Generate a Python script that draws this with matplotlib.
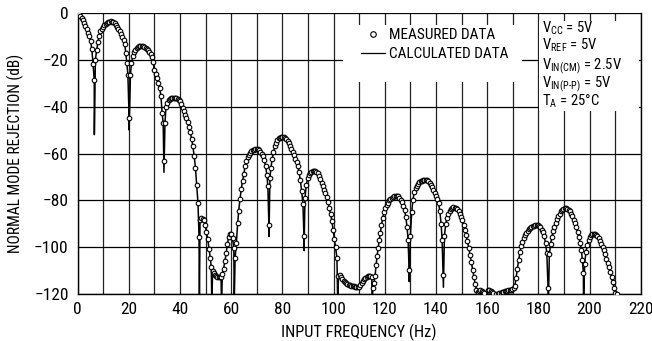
import numpy as np
import matplotlib
matplotlib.use("Agg")
import matplotlib.pyplot as plt
from matplotlib.lines import Line2D
from matplotlib.patches import Rectangle
from matplotlib import font_manager

names = {f.name for f in font_manager.fontManager.ttflist}
prefs = ["Liberation Sans Narrow", "Arial Narrow", "Roboto Condensed", "Archivo Narrow",
         "Asap Condensed", "Liberation Sans", "DejaVu Sans"]
fam = [n for n in prefs if n in names]
main_font = fam[0]
plt.rcParams['font.family'] = [main_font, "DejaVu Sans"]
plt.rcParams['mathtext.fontset'] = 'custom'
plt.rcParams['mathtext.rm'] = main_font
plt.rcParams['mathtext.it'] = main_font

# ---------------- data ----------------
meas_freq = [
    0, 0.5, 1.0, 1.5, 2.0, 2.5, 3.0, 3.5, 4.0, 4.5, 5.0, 5.5, 6.0, 6.45,
    6.9, 7.4, 7.9, 8.4, 8.9, 9.4, 9.9, 10.4, 10.9, 11.4, 11.9, 12.4, 12.9, 13.4, 13.9,
    14.4, 14.9, 15.4, 15.9, 16.4, 16.9, 17.4, 17.9, 18.4, 18.8, 19.2, 19.6, 20.1,
    20.6, 21.0, 21.5, 22.0, 22.5, 23.0, 23.5, 24.0, 24.5, 25.0, 25.5, 26.0, 26.5,
    27.0, 27.5, 28.0, 28.5, 29.0, 29.5, 29.9, 30.5, 31.0, 31.5, 32.0, 32.5, 33.0, 33.4, 33.8,
    34.1, 34.5, 35.0, 35.5, 36.0, 36.5, 37.0, 37.5, 38.0, 38.5, 39.0, 39.5, 40.0,
    40.5, 41.0, 41.5, 42.0, 42.5, 43.0, 43.5, 44.0, 44.5, 45.0, 45.5, 46.0, 46.5, 47.0, 47.4,
    47.8, 48.3, 48.8, 49.3, 49.8, 50.3, 50.8, 51.3, 51.8, 52.2,
    52.7, 53.1, 53.6, 54.1, 54.6, 55.1, 55.6, 56.0,
    56.5, 57.0, 57.5, 58.0, 58.5, 59.0, 59.5, 60.0, 60.5, 61.0,
    61.5, 62.0, 62.5, 62.9, 63.4, 63.9, 64.4, 64.9, 65.4, 65.9, 66.4, 66.9, 67.4, 67.9,
    68.4, 68.9, 69.4, 69.9, 70.4, 70.9, 71.4, 71.9, 72.4, 72.9, 73.4, 73.9, 74.3, 74.7,
    75.1, 75.5, 76.0, 76.5, 77.0, 77.5, 78.0, 78.5, 79.0, 79.5, 80.0, 80.5, 81.0, 81.5,
    82.0, 82.5, 83.0, 83.5, 84.0, 84.5, 85.0, 85.5, 86.0, 86.5, 87.0, 87.5, 88.0, 88.4,
    88.8, 89.3, 89.8, 90.3, 90.8, 91.3, 91.8, 92.3, 92.8, 93.3, 93.8, 94.3, 94.8, 95.3,
    95.8, 96.3, 96.8, 97.3, 97.8, 98.3, 98.8, 99.3, 99.8, 100.3, 100.8, 101.3,
    101.9, 102.4, 102.9, 103.4, 103.9, 104.4, 104.9, 105.4, 105.9, 106.4, 106.9, 107.4,
    107.9, 108.4, 108.9, 109.4, 109.9, 110.4, 110.9, 111.4, 111.9, 112.4, 112.9, 113.4,
    113.9, 114.4, 114.9, 115.3, 115.8, 116.2, 116.6, 117.0, 117.4, 117.8, 118.2, 118.7,
    119.2, 119.7, 120.2, 120.7, 121.2, 121.7, 122.2, 122.7, 123.2, 123.7, 124.2, 124.7,
    125.2, 125.7, 126.2, 126.7, 127.2, 127.7, 128.2, 128.7, 129.1, 129.5,
    130.0, 130.5, 131.0, 131.5, 132.0, 132.5, 133.0, 133.5, 134.0, 134.5, 135.0, 135.5,
    136.0, 136.5, 137.0, 137.5, 138.0, 138.5, 139.0, 139.5, 140.0, 140.5, 141.0, 141.5,
    142.0, 142.4, 142.8,
    143.3, 143.8, 144.3, 144.8, 145.3, 145.8, 146.3, 146.8, 147.3, 147.8, 148.3, 148.8,
    149.3, 149.8, 150.3, 150.8, 151.3, 151.8, 152.3, 152.8, 153.3, 153.8, 154.3, 154.8,
    155.3, 155.8, 156.3, 156.8, 157.3, 157.8, 158.3, 158.8, 160.3, 160.8, 161.3, 161.8,
    162.3, 163.3, 164.3, 164.8, 165.3, 165.8, 166.3, 166.8, 167.3, 167.8, 168.3, 168.8,
    169.3, 169.8, 170.3, 170.8, 171.3, 171.8, 172.3, 172.8, 173.3, 173.8, 174.3, 174.8,
    175.3, 175.8, 176.3, 176.8, 177.3, 177.8, 178.3, 178.8, 179.3, 179.8, 180.3, 180.8,
    181.3, 181.8, 182.3, 182.8, 183.3, 183.8,
    184.3, 184.8, 185.3, 185.8, 186.3, 186.8, 187.3, 187.8, 188.3, 188.8, 189.3, 189.8,
    190.3, 190.8, 191.3, 191.8, 192.3, 192.8, 193.3, 193.8, 194.3, 194.8, 195.3, 195.8,
    196.3, 196.8, 197.2, 197.6,
    198.1, 198.6, 199.1, 199.6, 200.1, 200.6, 201.1, 201.6, 202.1, 202.6, 203.1, 203.6,
    204.1, 204.6, 205.1, 205.6, 206.1, 206.6, 207.1, 207.6, 208.1, 208.6, 209.1, 209.6,
    210.1, 210.6,
]
meas_db = [
    0, -0.5, -1.2, -2.2, -3.2, -4.4, -5.6, -7.0, -8.6, -10.0, -12.0, -15.5, -22.0, -28.7,
    -20.0, -16.0, -12.5, -9.8, -8.0, -6.9, -6.0, -5.3, -4.7, -4.3, -4.0, -3.8, -3.7, -3.8, -4.1,
    -4.6, -5.2, -6.0, -6.9, -7.9, -9.0, -10.3, -11.8, -13.5, -17.3, -21.5, -26.5, -45.0,
    -26.5, -21.5, -18.5, -16.8, -15.8, -15.1, -14.6, -14.3, -14.1, -14.1, -14.2, -14.5, -14.9,
    -15.4, -16.0, -16.8, -17.8, -19.0, -20.9, -24.4, -26.2, -28.0, -30.0, -32.3, -35.3, -42.9, -47.1, -63.0,
    -46.8, -40.0, -38.3, -37.4, -36.9, -36.5, -36.3, -36.2, -36.2, -36.4, -36.7, -37.1, -37.8,
    -39.0, -40.5, -42.0, -43.4, -45.0, -46.7, -48.6, -51.0, -53.8, -57.0, -61.0, -66.0, -73.4, -81.2, -95.4,
    -88.3, -87.6, -87.8, -88.5, -90.5, -93.5, -96.5, -100.5, -104.5, -108.5,
    -110.0, -110.8, -111.8, -112.3, -112.6, -112.8, -112.7, -112.5,
    -111.5, -109.0, -106.0, -102.5, -98.5, -95.5, -94.4, -94.5, -96.2, -100.4,
    -104.5, -98.0, -89.7, -84.4, -79.5, -75.3, -71.8, -68.8, -65.5, -63.2, -61.6, -60.5, -59.7, -59.1,
    -58.7, -58.4, -58.2, -58.1, -58.2, -58.6, -59.2, -60.0, -61.2, -62.9, -65.3, -69.0, -74.0, -90.5,
    -70.6, -66.0, -62.3, -59.3, -57.0, -55.4, -54.3, -53.6, -53.2, -53.0, -52.9, -53.0, -53.4, -54.0,
    -54.8, -55.7, -56.7, -57.9, -59.2, -60.7, -62.2, -63.8, -65.5, -68.0, -71.5, -76.0, -81.5, -95.0,
    -79.0, -73.5, -70.5, -69.2, -68.5, -68.0, -67.6, -67.4, -67.4, -67.7, -68.4, -69.5, -70.9, -72.4,
    -73.9, -75.4, -77.0, -78.6, -80.8, -83.3, -85.8, -88.6, -92.5, -96.5, -100.0, -104.5,
    -112.2, -111.8, -112.6, -113.5, -114.2, -114.8, -115.2, -115.6, -116.0, -116.2, -116.4, -116.5,
    -116.6, -116.7, -116.8, -117.0, -116.7, -116.0, -115.2, -114.3, -113.5, -113.0, -112.7, -112.4,
    -112.2, -112.3, -112.6, -117.5, -115.0, -112.0, -107.5, -103.5, -100.2, -97.0, -94.0, -90.5,
    -87.5, -85.0, -83.2, -81.9, -80.9, -80.0, -79.4, -78.9, -78.5, -78.2, -78.0, -78.0,
    -78.2, -78.8, -79.6, -80.7, -82.2, -84.2, -87.0, -91.5, -97.0, -109.5,
    -95.0, -85.0, -79.6, -76.6, -74.8, -73.7, -72.9, -72.3, -71.9, -71.6, -71.4, -71.3,
    -71.3, -71.5, -71.9, -72.5, -73.4, -74.4, -75.6, -76.8, -78.1, -79.4, -81.0, -84.5,
    -90.0, -97.0, -111.8,
    -95.0, -90.0, -87.5, -85.6, -84.4, -83.6, -83.2, -83.0, -83.1, -83.4, -83.8, -84.6,
    -85.7, -87.0, -88.5, -90.3, -92.4, -94.8, -97.4, -100.2, -103.2, -106.3, -109.5, -112.6,
    -115.5, -118.0, -119.0, -118.5, -118.2, -118.6, -119.2, -119.6, -118.3, -118.2, -118.4, -118.8,
    -119.3, -119.8, -119.8, -119.5, -119.3, -119.0, -118.8, -118.7, -118.6, -118.4, -118.3, -118.2,
    -118.1, -117.6, -117.2, -116.5, -113.0, -109.0, -105.5, -102.0, -99.5, -97.5, -96.0, -94.8,
    -93.8, -93.0, -92.3, -91.7, -91.2, -90.9, -90.7, -90.5, -90.4, -90.5, -90.9, -91.5,
    -92.4, -93.6, -95.3, -98.3, -102.5, -117.5,
    -103.0, -98.5, -95.5, -93.0, -91.2, -89.5, -88.0, -86.8, -85.6, -84.7, -84.0, -83.5,
    -83.3, -83.4, -83.6, -84.0, -84.7, -85.6, -86.8, -88.2, -89.8, -91.4, -93.3, -95.5,
    -98.0, -101.0, -105.5, -111.0,
    -107.0, -102.0, -99.0, -97.0, -95.6, -94.8, -94.3, -94.2, -94.3, -94.7, -95.3, -96.2,
    -97.2, -98.4, -99.8, -101.3, -103.0, -104.8, -106.6, -108.5, -110.5, -112.6, -114.8, -117.2,
    -119.5, -120.0,
]

# deepest points of the calculated curve (notches)
notch_freq = [6.5, 20.1, 33.7, 47.55, 52.4, 56.2, 61.15, 74.75, 88.45, 101.6,
              115.1, 129.55, 142.9, 159.5, 162.8, 183.9, 197.65, 211.0]
notch_db = [-52, -50, -68, -125, -125, -125, -125, -95.4, -101.4, -125,
            -125, -114.6, -117, -125, -125, -125, -125, -125]

x_ticks = [0, 20, 40, 60, 80, 100, 120, 140, 160, 180, 200, 220]
y_ticks = [0, -20, -40, -60, -80, -100, -120]
x_label = "INPUT FREQUENCY (Hz)"
y_label = "NORMAL MODE REJECTION (dB)"
legend_labels = ["MEASURED DATA", "CALCULATED DATA"]
conditions = [r"$\mathregular{V_{CC}}$ = 5V",
              r"$\mathregular{V_{REF}}$ = 5V",
              r"$\mathregular{V_{IN(CM)}}$ = 2.5V",
              r"$\mathregular{V_{IN(P\text{-}P)}}$ = 5V",
              r"$\mathregular{T_{A}}$ = 25°C"]

# calculated curve = measured points + notch minima, sorted by frequency
calc_f = np.concatenate([meas_freq, notch_freq])
calc_d = np.concatenate([meas_db, notch_db])
order = np.argsort(calc_f, kind="stable")
calc_f, calc_d = calc_f[order], calc_d[order]

# ---------------- figure ----------------
fig = plt.figure(figsize=(6.52, 3.41), dpi=100)
ax = fig.add_axes([0.1192, 0.1369, 0.8635, 0.8259])

ax.set_xlim(0, 220)
ax.set_ylim(-120, 0)
ax.set_xticks(x_ticks)
ax.set_xticks(np.arange(10, 220, 20), minor=True)
ax.set_yticks(y_ticks)
ax.set_xticklabels([str(v) for v in x_ticks])
ax.set_yticklabels([("\u2212" + str(-v)) if v < 0 else str(v) for v in y_ticks])
ax.tick_params(axis="both", which="both", length=0, labelsize=12.5)
ax.tick_params(axis="x", pad=5.5)
ax.tick_params(axis="y", pad=6.5)
ax.grid(True, which="both", axis="x", color="#222222", linewidth=0.9)
ax.grid(True, which="major", axis="y", color="black", linewidth=0.9)
ax.set_axisbelow(True)
for s in ["left", "bottom", "right"]:
    ax.spines[s].set_linewidth(1.0)
ax.spines["top"].set_visible(False)

ax.set_xlabel(x_label, fontsize=11.8, labelpad=5)
ax.set_ylabel(y_label, fontsize=11.2, labelpad=7)

# white boxes behind legend and conditions
ax.add_patch(Rectangle((0.471, 0.754), 0.318, 0.202, transform=ax.transAxes,
                       facecolor="white", edgecolor="none", zorder=2.6))
ax.add_patch(Rectangle((0.819, 0.651), 0.178, 0.32, transform=ax.transAxes,
                       facecolor="white", edgecolor="none", zorder=2.6, clip_on=False))

ax.plot(calc_f, calc_d, color="black", linewidth=1.1, zorder=3)
ax.plot(meas_freq, meas_db, linestyle="none", marker="o", markersize=3.3,
        markerfacecolor="white", markeredgecolor="black", markeredgewidth=0.8, zorder=4)

handles = [Line2D([], [], linestyle="none", marker="o", markersize=4.0,
                  markerfacecolor="white", markeredgecolor="black", markeredgewidth=0.8),
           Line2D([], [], color="black", linewidth=0.9)]
leg = ax.legend(handles, legend_labels, loc="center left", bbox_to_anchor=(0.503, 0.886),
                frameon=False, fontsize=11.0, handlelength=1.6, handletextpad=0.25,
                borderpad=0, borderaxespad=0, labelspacing=0.3)
leg.set_zorder(5)

cond_y = [0.930, 0.8675, 0.800, 0.735, 0.669]
for txt, yy in zip(conditions, cond_y):
    ax.text(0.824, yy, txt, transform=ax.transAxes, fontsize=10.6, va="baseline",
            ha="left", zorder=6)

fig.savefig("out.png", dpi=100)
